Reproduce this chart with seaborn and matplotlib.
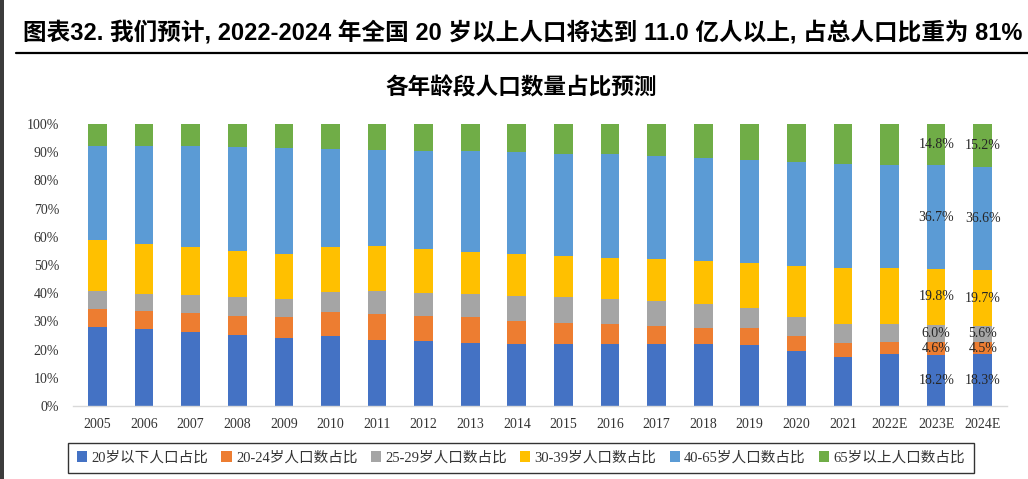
import numpy as np
import pandas as pd
import matplotlib
matplotlib.use("Agg")
import matplotlib.pyplot as plt
import seaborn as sns
from matplotlib.patches import Patch, Rectangle
from matplotlib.lines import Line2D

# ---------------- data ----------------
years = ["2005", "2006", "2007", "2008", "2009", "2010", "2011", "2012", "2013", "2014",
         "2015", "2016", "2017", "2018", "2019", "2020", "2021", "2022E", "2023E", "2024E"]
under20 = [28.1, 27.3, 26.2, 25.2, 24.1, 24.7, 23.5, 22.9, 22.5, 22.1,
           21.9, 21.9, 21.9, 21.9, 21.6, 19.6, 17.5, 18.4, 18.2, 18.3]
age20_24 = [6.3, 6.5, 6.7, 6.8, 7.6, 8.5, 9.2, 9.1, 8.9, 8.2,
            7.7, 7.1, 6.6, 5.9, 6.1, 5.2, 5.0, 4.3, 4.6, 4.5]
age25_29 = [6.4, 6.0, 6.5, 6.8, 6.4, 7.2, 8.1, 8.2, 8.2, 8.7,
            9.1, 9.1, 8.9, 8.4, 7.1, 6.9, 6.6, 6.4, 6.0, 5.6]
age30_39 = [18.1, 17.6, 16.9, 16.0, 15.8, 16.0, 15.9, 15.4, 15.0, 14.9,
            14.5, 14.5, 14.8, 15.1, 15.9, 17.9, 20.0, 20.0, 19.8, 19.7]
age40_65 = [33.4, 34.7, 35.8, 37.0, 37.7, 34.9, 34.2, 34.9, 35.7, 36.2,
            36.3, 36.6, 36.5, 36.8, 36.7, 36.8, 36.7, 36.4, 36.7, 36.6]
over65 = [7.7, 7.9, 7.9, 8.2, 8.4, 8.7, 9.1, 9.5, 9.7, 9.9,
          10.5, 10.8, 11.3, 11.9, 12.6, 13.6, 14.2, 14.5, 14.8, 15.2]
series_names = ["20岁以下人口占比", "20-24岁人口数占比", "25-29岁人口数占比",
                "30-39岁人口数占比", "40-65岁人口数占比", "65岁以上人口数占比"]
labeled_years = ["2023E", "2024E"]
yticks = [0, 10, 20, 30, 40, 50, 60, 70, 80, 90, 100]

title = "图表32. 我们预计, 2022-2024 年全国 20 岁以上人口将达到 11.0 亿人以上, 占总人口比重为 81%"
subtitle = "各年龄段人口数量占比预测"

colors = ["#4472C4", "#ED7D31", "#A5A5A5", "#FFC000", "#5B9BD5", "#70AD47"]

# ---------------- plot ----------------
sns.set_theme(style="white")
plt.rcParams["font.family"] = ["Liberation Serif", "Noto Sans CJK SC", "DejaVu Sans"]

W, H = 1028, 479
fig = plt.figure(figsize=(W / 100, H / 100), dpi=100)
ax = fig.add_axes([73 / W, 1 - 406 / H, 934 / W, 282 / H])

values = np.array([under20, age20_24, age25_29, age30_39, age40_65, over65])
cum = np.cumsum(values, axis=0)

df = pd.DataFrame({"year": years})
for i in range(len(series_names)):
    df[f"cum{i}"] = cum[i]

for i in reversed(range(len(series_names))):
    sns.barplot(data=df, x="year", y=f"cum{i}", order=years, color=colors[i],
                saturation=1, width=0.4, errorbar=None, ax=ax, linewidth=0)

# data labels
for yr in labeled_years:
    j = years.index(yr)
    for i in range(len(series_names)):
        bottom = cum[i][j] - values[i][j]
        ax.text(j, bottom + values[i][j] / 2, f"{values[i][j]:.1f}%",
                ha="center", va="center", fontsize=10, color="#262626",
                family=["Liberation Serif", "DejaVu Sans"])

ax.set_xlim(-0.525, 19.52)
ax.set_ylim(0, 100)
ax.set_yticks(yticks)
ax.set_yticklabels([f"{v}%" for v in yticks])
ax.set_xlabel("")
ax.set_ylabel("")
ax.tick_params(axis="both", length=0, labelsize=10, colors="#333333")
ax.tick_params(axis="y", pad=10)
ax.tick_params(axis="x", pad=9)
for s in ["top", "right", "left"]:
    ax.spines[s].set_visible(False)
ax.spines["bottom"].set_color("#D9D9D9")
ax.spines["bottom"].set_linewidth(1)
ax.grid(False)

# legend
handles = [Patch(facecolor=c, edgecolor="none") for c in colors]
leg = fig.legend(handles, series_names, loc="center",
                 bbox_to_anchor=(521 / W, 1 - 458 / H), ncol=6,
                 frameon=True, fancybox=False, edgecolor="black",
                 prop={"family": ["Liberation Serif", "Noto Sans CJK SC"], "size": 10.5},
                 handlelength=0.7, handleheight=0.7, handletextpad=0.3,
                 columnspacing=0.9, borderpad=0.6)
leg.get_frame().set_linewidth(1.0)
for t in leg.get_texts():
    t.set_color("#333333")

# title & subtitle
fig.text(23 / W, 1 - 33 / H, title, ha="left", va="center", fontsize=17,
         fontweight="bold", family=["Liberation Sans", "Noto Sans CJK SC"], color="black")
fig.add_artist(Line2D([16 / W, 1.0], [1 - 53 / H, 1 - 53 / H], color="black",
                      lw=1.6, transform=fig.transFigure))
fig.text(521 / W, 1 - 88 / H, subtitle, ha="center", va="center", fontsize=16.3,
         fontweight="bold", family=["Noto Sans CJK SC"], color="black")

# left dark edge of the screenshot
fig.add_artist(Rectangle((0, 0), 4 / W, 1, transform=fig.transFigure,
                         color="#3c3c3c", lw=0))

fig.savefig("out.png", dpi=100)
